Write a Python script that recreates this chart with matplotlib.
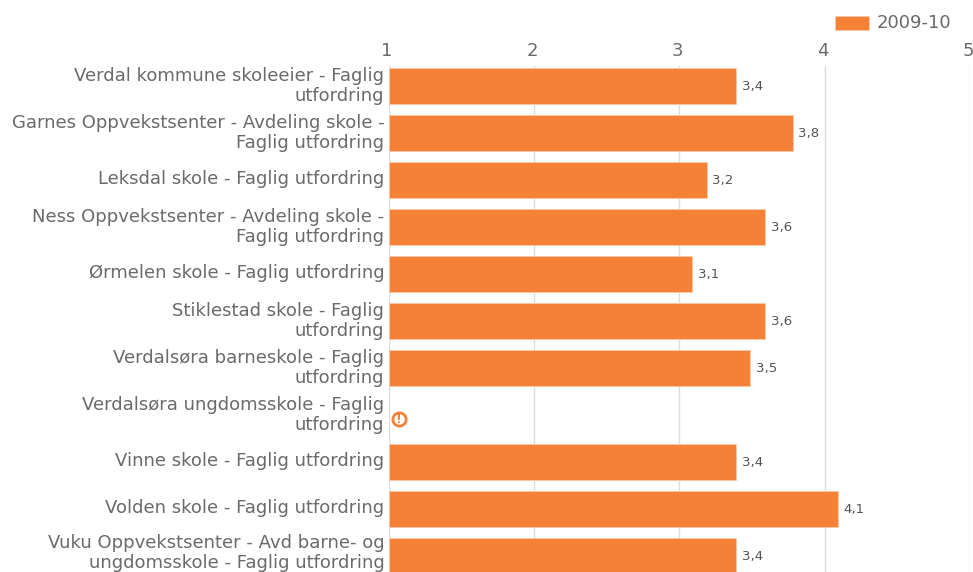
import matplotlib
matplotlib.use('Agg')
import matplotlib.pyplot as plt
from matplotlib.transforms import ScaledTranslation

categories = ['Verdal kommune skoleeier - Faglig\nutfordring',
              'Garnes Oppvekstsenter - Avdeling skole -\nFaglig utfordring',
              'Leksdal skole - Faglig utfordring',
              'Ness Oppvekstsenter - Avdeling skole -\nFaglig utfordring',
              'Ørmelen skole - Faglig utfordring',
              'Stiklestad skole - Faglig\nutfordring',
              'Verdalsøra barneskole - Faglig\nutfordring',
              'Verdalsøra ungdomsskole - Faglig\nutfordring',
              'Vinne skole - Faglig utfordring',
              'Volden skole - Faglig utfordring',
              'Vuku Oppvekstsenter - Avd barne- og\nungdomsskole - Faglig utfordring']
values = [3.39, 3.78, 3.19, 3.59, 3.09, 3.59, 3.49, None, 3.39, 4.09, 3.39]
x_ticks = [1, 2, 3, 4, 5]
series_name = '2009-10'

ORANGE = '#F58137'
TEXT = '#6A6A6A'
W, H = 973, 572

fig = plt.figure(figsize=(W / 100, H / 100), dpi=100)
# axes box in pixels: x 388.5-970, y 66-572
ax = fig.add_axes([388.5 / W, 0, (970 - 388.5) / W, (H - 66) / H])
ax.set_xlim(1, 5)
ax.set_ylim(10.34, -0.43)

for i, v in enumerate(values):
    if v is None:
        # no data marker
        offset = ScaledTranslation(10 / 100, -4 / 100, fig.dpi_scale_trans)
        ax.plot([1], [i], marker='o', ms=9.5, mfc='white', mec=ORANGE, mew=2,
                clip_on=False, zorder=4, transform=ax.transData + offset)
        ax.annotate('!', xy=(1, i), xytext=(7.2, -2.9), textcoords='offset points',
                    ha='center', va='center', fontsize=9, fontweight='bold',
                    color=ORANGE, zorder=5)
        continue
    ax.barh(i, v - 1, left=1, height=0.76, color=ORANGE, edgecolor='#FBC9A6',
            linewidth=0.6, zorder=3)
    ax.annotate(f'{v:.1f}'.replace('.', ','), xy=(v, i), xytext=(4, 0),
                textcoords='offset points', ha='left', va='center',
                fontsize=9.6, color='#555555', zorder=4,
                bbox=dict(facecolor='white', edgecolor='none', pad=1.5))

ax.set_yticks(range(len(categories)))
ax.set_yticklabels(categories, fontsize=13, color=TEXT, linespacing=1.16, ha='right')
ax.tick_params(axis='y', length=0, pad=3)
for lab in ax.get_yticklabels():
    lab.set_transform(lab.get_transform() + ScaledTranslation(0, 3 / 100, fig.dpi_scale_trans))
# last label would lose its descenders at the figure edge
last = ax.get_yticklabels()[-1]
last.set_transform(last.get_transform() + ScaledTranslation(0, 3 / 100, fig.dpi_scale_trans))

ax.xaxis.tick_top()
ax.set_xticks(x_ticks)
ax.set_xticklabels([str(t) for t in x_ticks], fontsize=13, color=TEXT)
ax.tick_params(axis='x', length=0, pad=4)
for lab in ax.get_xticklabels():
    lab.set_transform(lab.get_transform() + ScaledTranslation(-2 / 100, 0, fig.dpi_scale_trans))
ax.grid(axis='x', color='#DDDDDD', lw=1, zorder=0)
ax.set_axisbelow(True)
for s in ax.spines.values():
    s.set_visible(False)

# legend sits above the axes at top right
fig.patches.append(plt.Rectangle((835 / W, 1 - 30 / H), 34 / W, 14 / H, transform=fig.transFigure,
                                 facecolor=ORANGE, edgecolor='#FBC9A6', lw=0.6))
fig.text(877 / W, 1 - 23 / H, series_name, fontsize=13, color=TEXT, ha='left', va='center')

fig.savefig('out.png', dpi=100)
